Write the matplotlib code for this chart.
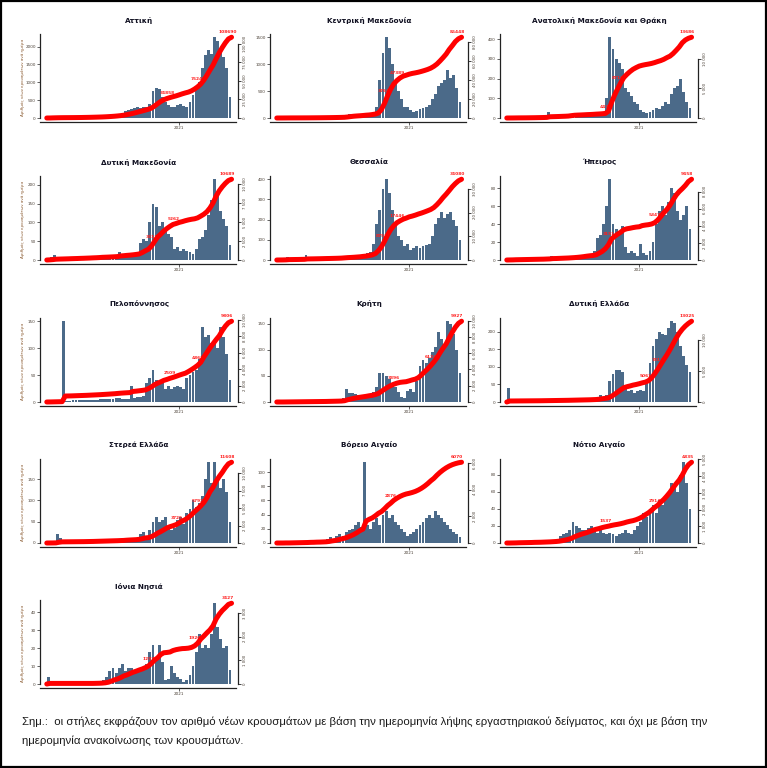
import numpy as np
import matplotlib
matplotlib.use("Agg")
import matplotlib.pyplot as plt
from matplotlib.patches import Rectangle
from matplotlib.ticker import MultipleLocator, MaxNLocator, FuncFormatter

# ---------------- data ----------------
regions = ["Αττική", "Κεντρική Μακεδονία", "Ανατολική Μακεδονία και Θράκη",
           "Δυτική Μακεδονία", "Θεσσαλία", "Ήπειρος",
           "Πελοπόννησος", "Κρήτη", "Δυτική Ελλάδα",
           "Στερεά Ελλάδα", "Βόρειο Αιγαίο", "Νότιο Αιγαίο",
           "Ιόνια Νησιά"]

attiki = [5, 40, 30, 25, 15, 10, 8, 8, 10, 12, 15, 20, 20, 25, 30, 30, 35, 40, 50, 60, 70,
          80, 100, 120, 150, 200, 220, 250, 280, 300, 280, 300, 320, 400,
          750, 850, 800, 600, 450, 350, 320, 300, 350, 380, 330, 300,
          450, 650, 800, 1000, 1400, 1750, 1900, 1800, 2260, 2150, 1900, 1700, 1400, 600]
kentriki = [2, 3, 5, 5, 3, 2, 2, 2, 3, 3, 4, 5, 5, 6, 6, 8, 8, 10, 10, 12, 15, 20,
            60, 80, 70, 50, 40, 50, 60, 45, 80, 100, 200,
            700, 1200, 1500, 1300, 1000, 650, 500, 350, 200,
            200, 150, 110, 130, 160, 180, 200,
            250, 350, 450, 600, 650, 700, 900, 750, 800, 550, 300]
anmak = [1, 1, 2, 2, 1, 1, 2, 2, 2, 3, 3, 3, 5, 30, 5, 4, 5, 6, 5, 8, 20, 18,
         8, 6, 7, 8, 6, 8, 10, 8, 10, 15,
         100, 410, 350, 300, 280, 250, 150, 130, 110, 80,
         70, 40, 30, 25, 30, 40, 50, 45, 60, 80, 70,
         120, 150, 160, 200, 130, 80, 50]
dytmak = [5, 8, 12, 4, 3, 3, 3, 4, 3, 3, 4, 3, 4, 4, 5, 4, 5, 8, 4, 4, 5, 5, 6,
          20, 8, 10, 8, 10, 12, 15,
          45, 55, 50, 100, 150, 140, 90, 100, 80, 70, 60,
          30, 35, 25, 30, 25, 20, 15, 30,
          55, 60, 80, 120, 160, 215, 170, 130, 110, 90, 40]
thessalia = [2, 3, 5, 15, 3, 3, 3, 4, 4, 25, 3, 3, 4, 4, 5, 5, 4, 5, 5, 6, 8, 15, 15,
             10, 12, 15, 15, 25, 20, 35, 40,
             80, 180, 250, 350, 400, 330, 250, 180, 120, 100,
             70, 80, 50, 60, 70, 60, 70, 75, 80,
             120, 180, 210, 240, 210, 230, 240, 200, 170, 100]
ipeiros = [1, 1, 2, 1, 1, 1, 1, 1, 1, 1, 1, 1, 2, 2, 5, 1, 2, 2, 2, 2, 3,
           3, 4, 5, 6, 7, 6, 5, 10,
           25, 28, 40, 60, 90, 40, 35, 30, 38,
           15, 8, 10, 8, 5, 18, 8, 6, 10,
           20, 40, 55, 60, 50, 65, 80, 75, 55, 45, 50, 60, 35]
pelop = [1, 2, 2, 2, 2, 150, 2, 2, 3, 3, 3, 3, 3, 4, 4, 4, 4, 5, 5, 5, 6,
         5, 8, 7, 6, 5, 5, 30, 8, 10, 10, 12,
         35, 45, 60, 40, 35, 40, 25, 30, 25,
         28, 30, 28, 25, 45, 50, 55, 60, 80,
         140, 120, 125, 110, 110, 100, 140, 120, 90, 40]
kriti = [0, 0, 1, 1, 1, 1, 1, 1, 1, 1, 1, 1, 1, 1, 1, 1, 2, 2, 2, 2, 3,
         8, 25, 18, 18, 15, 14, 12, 12, 15, 12, 20, 28, 55, 55, 50, 45, 35, 28, 20, 10, 8,
         22, 25, 20,
         40, 70, 80, 75, 85, 95, 105, 135, 120, 110, 155, 150, 130, 100, 55]
dytell = [40, 1, 1, 1, 1, 1, 1, 1, 1, 1, 1, 2, 2, 2, 2, 2, 2, 2, 2, 2, 3, 3, 3, 3, 3, 3,
          3, 5, 5, 12, 20, 15, 20,
          60, 80, 90, 90, 85,
          40, 30, 35, 25, 30, 35, 30,
          55, 110, 160, 180, 200, 195, 190, 210, 230, 225, 200, 160, 130, 105, 85]
sterea = [1, 1, 2, 20, 12, 1, 1, 1, 1, 1, 1, 1, 2, 2, 2, 3, 3, 3, 3, 3, 3, 3, 3, 4, 4, 8,
          6, 5, 5, 10, 20, 25, 10, 30, 50, 60, 50, 55, 60,
          40, 30, 35, 55, 60, 45,
          70, 80, 100, 85, 95, 110, 150, 190, 140, 190, 150, 130, 150, 120, 50]
vaigaio = [0, 0, 1, 0, 1, 1, 1, 1, 1, 1, 2, 1, 2, 1, 2, 2,
           5, 8, 6, 10, 12, 10, 15, 18, 20, 25, 30, 22, 114,
           25, 20, 30, 35, 25, 40, 45, 35, 40, 30,
           25, 20, 15, 10, 12, 15, 20, 25, 30, 35,
           40, 35, 45, 40, 35, 30, 25, 20, 15, 12, 8]
naigaio = [0, 1, 1, 2, 1, 1, 1, 1, 2, 1, 1, 2, 2, 2, 3, 3,
           5, 8, 10, 12, 15, 25, 20, 18, 15,
           15, 18, 20, 15, 12, 15, 12, 10, 12, 10, 8,
           10, 12, 15, 12, 10, 15, 20, 25, 35, 30,
           40, 45, 35, 50, 45, 55, 60, 70, 65, 60, 80, 95, 70, 40]
ionia = [4, 0, 0, 0, 0, 0, 0, 0, 0, 0, 0, 0, 0, 0, 0, 0.5, 0.5, 1, 2, 4,
         7, 9, 6, 9, 11, 7, 9, 9, 7, 8, 7, 9, 11,
         18, 22, 15, 22, 12,
         2, 3, 10, 6, 4, 3, 1, 2, 5,
         10, 18, 28, 20, 22, 20, 28, 45, 32, 25, 20, 21, 8]

series = [attiki, kentriki, anmak, dytmak, thessalia, ipeiros, pelop, kriti,
          dytell, sterea, vaigaio, naigaio, ionia]

totals = [108690, 85448, 13686, 10689, 34080, 9458, 9806, 9927, 13025, 11608, 6070, 4835, 3427]
ann_idx = [[40, 50], [36, 40], [33, 37], [35, 42], [35, 40], [34, 49], [41, 50],
           [39, 51], [46, 50], [43, 50], [38], [33, 49], [34, 49]]
ann_lbl = [["34858", "75245"], ["37641", "47389"], ["4473", "8716"], ["3413", "5262"],
           ["8753", "17446"], ["3151", "5347"], ["2509", "4862"], ["3396", "6124"],
           ["5061", "7812"], ["3725", "5792"], ["2876"], ["1537", "2914"], ["1297", "1920"]]
left_steps = [500, 500, 100, 50, 100, 20, 50, 50, 50, 50, 20, 20, 10]
year_label = "2021"
year_frac = 0.714
ylabel_txt = "Αριθμός νέων κρουσμάτων ανά ημέρα"
note1 = "Σημ.:  οι στήλες εκφράζουν τον αριθμό νέων κρουσμάτων με βάση την ημερομηνία λήψης εργαστηριακού δείγματος, και όχι με βάση την"
note2 = "ημερομηνία ανακοίνωσης των κρουσμάτων."

# ---------------- layout ----------------
W, H = 767, 768
fig = plt.figure(figsize=(W / 100, H / 100), dpi=100)
fig.patch.set_facecolor("white")

col_left = [40, 270, 500]
col_right = [238, 468, 698]
row_top = [34, 176, 318, 459, 600]
row_bot = [122, 264, 406, 547, 688]

BAR = "#4b6a89"
TICKC = "#4a4036"
frac0 = 4.0 / 84.0

def fmt_sp(v, pos=None):
    return f"{int(round(v)):,}".replace(",", " ")

for k, name in enumerate(regions):
    r, c = divmod(k, 3)
    L, R, T, B = col_left[c], col_right[c], row_top[r], row_bot[r]
    ax = fig.add_axes([L / W, 1 - B / H, (R - L) / W, (B - T) / H])
    vals = np.array(series[k], dtype=float)
    n = len(vals)
    x = np.arange(n) + 0.5
    top = vals.max() * 1.04
    ax.set_xlim(-2.2, n + 2.1)
    ax.set_ylim(-top * frac0, top)
    ax.bar(x, vals, width=0.94, color=BAR, edgecolor="none", zorder=2)

    for s in ["top", "right"]:
        ax.spines[s].set_visible(False)
    ax.spines["left"].set_bounds(0, top)
    ax.spines["bottom"].set_bounds(-2.2, n + 1.6)
    for s in ["left", "bottom"]:
        ax.spines[s].set_linewidth(0.9)
        ax.spines[s].set_color("#222222")
    ax.yaxis.set_major_locator(MultipleLocator(left_steps[k]))
    ax.yaxis.set_major_formatter(FuncFormatter(lambda v, p: f"{int(v)}"))
    ax.set_xticks([year_frac * n])
    ax.set_xticklabels([year_label])
    ax.tick_params(axis="both", direction="out", length=2, width=0.5,
                   labelsize=3, pad=1, colors="#222222", labelcolor=TICKC)

    # cumulative line on secondary axis
    ax2 = ax.twinx()
    total = totals[k]
    cum = np.concatenate([[0.0], np.cumsum(vals)]) / vals.sum() * total
    xc = np.arange(n + 1)
    top2 = total * 1.04
    ax2.set_ylim(-top2 * frac0, top2)
    ax2.plot(xc, cum, color="#ff0000", lw=3.6, solid_capstyle="round", zorder=3)
    for s in ["top", "left", "bottom"]:
        ax2.spines[s].set_visible(False)
    loc = MaxNLocator(nbins=5, steps=[1, 2, 2.5, 5, 10])
    rt = [t for t in loc.tick_values(0, total) if 0 <= t <= top2]
    ax2.set_yticks(rt)
    ax2.yaxis.set_major_formatter(FuncFormatter(fmt_sp))
    ax2.spines["right"].set_bounds(0, rt[-1])
    ax2.spines["right"].set_linewidth(0.9)
    ax2.spines["right"].set_color("#222222")
    ax2.tick_params(axis="y", direction="out", length=2.5, width=0.6, labelsize=2.8,
                    pad=1, colors="#222222", labelcolor=TICKC)
    for lab in ax2.get_yticklabels():
        lab.set_rotation(90)
        lab.set_va("center")

    for idx, lbl in zip(ann_idx[k], ann_lbl[k]):
        ax2.annotate(lbl, (idx, cum[idx]), xytext=(-2, 2), textcoords="offset points",
                     ha="center", va="bottom", color="#ff2020", fontsize=3.2,
                     fontweight="bold", zorder=2)
    ax2.annotate(f"{total}", (n, cum[-1]), xytext=(-3, 2.5), textcoords="offset points",
                 ha="center", va="bottom", color="#ff2020", fontsize=3.2,
                 fontweight="bold", zorder=4)

    fig.text((L + R) / 2 / W, 1 - (T - 14) / H, name, ha="center", va="center",
             fontsize=5.2, fontweight="bold", color="#111122")
    if c == 0:
        fig.text(23 / W, 1 - ((T + B) / 2 - 1) / H, ylabel_txt, rotation=90,
                 ha="center", va="center", fontsize=2.9, color="#8a5a30")

# footnote
t1 = fig.text(22 / W, 1 - 722 / H, note1, ha="left", va="center", fontsize=7,
              color="#1a1a1a", family="Liberation Sans")
t2 = fig.text(22 / W, 1 - 741 / H, note2, ha="left", va="center", fontsize=7,
              color="#1a1a1a", family="Liberation Sans")
fig.canvas.draw()
rend = fig.canvas.get_renderer()
w1 = t1.get_window_extent(rend).width
fs = 7 * 683.0 / w1
t1.set_fontsize(fs)
t2.set_fontsize(fs)

fig.patches.append(Rectangle((0.0015, 0.0015), 0.997, 0.997, transform=fig.transFigure,
                             fill=False, edgecolor="black", linewidth=1.6))

fig.savefig("out.png", dpi=100, facecolor="white")
